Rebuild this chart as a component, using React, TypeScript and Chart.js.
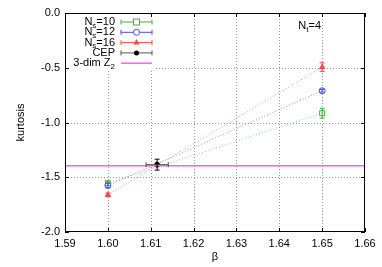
import React, { useEffect, useRef } from 'react';
import { Chart, registerables } from 'chart.js';
Chart.register(...registerables);

const betaValues = [1.6, 1.65];
const ns10Values = [-1.555, -0.915];
const ns10Errors = [0.02, 0.045];
const ns12Values = [-1.575, -0.71];
const ns12Errors = [0.02, 0.012];
const ns16Values = [-1.66, -0.495];
const ns16Errors = [0.015, 0.04];
const cepBeta = [1.6115];
const cepBetaErrors = [0.0026];
const cepValues = [-1.385];
const cepValueErrors = [0.05];
const z2Value = -1.396;
const xTicks = [1.59, 1.6, 1.61, 1.62, 1.63, 1.64, 1.65, 1.66];
const yTicks = [0, -0.5, -1.0, -1.5, -2.0];

const GREEN = 'rgb(70,170,70)';
const BLUE = 'rgb(70,70,255)';
const RED = 'rgb(255,70,70)';
const MAGENTA = 'rgb(255,90,255)';
const FONT = '"Liberation Sans", Arial, sans-serif';

const pts = (xs: number[], ys: number[]) => xs.map((x, i) => ({ x, y: ys[i] }));

export default function App() {
  const ref = useRef<HTMLCanvasElement>(null);
  useEffect(() => {
    const canvas = ref.current!;
    const series = [
      { label: '10', vals: ns10Values, errs: ns10Errors, color: GREEN, style: 'rect', fill: false },
      { label: '12', vals: ns12Values, errs: ns12Errors, color: BLUE, style: 'circle', fill: false },
      { label: '16', vals: ns16Values, errs: ns16Errors, color: RED, style: 'triangle', fill: true },
    ];
    const datasets: any[] = [];
    datasets.push({
      data: [{ x: 1.59, y: z2Value }, { x: 1.66, y: z2Value }],
      showLine: true, borderColor: MAGENTA, borderWidth: 1.5, pointRadius: 0,
    });
    series.forEach((s) => {
      datasets.push({
        data: pts(betaValues, s.vals), showLine: true,
        borderColor: s.color.replace('rgb', 'rgba').replace(')', ',0.6)'),
        borderWidth: 1, borderDash: [1, 2], pointRadius: 0,
      });
    });
    series.forEach((s) => {
      datasets.push({
        data: pts(betaValues, s.vals), showLine: false,
        pointStyle: s.style, pointRadius: s.style === 'rect' ? 3.5 : 3,
        borderColor: s.color, borderWidth: 1,
        backgroundColor: s.fill ? s.color : 'rgba(0,0,0,0)',
      });
    });
    datasets.push({
      data: pts(cepBeta, cepValues), showLine: false, pointStyle: 'circle',
      pointRadius: 2.5, borderColor: '#000', backgroundColor: '#000',
    });

    const plugin = {
      id: 'custom',
      beforeDatasetsDraw(chart: any) {
        const ctx = chart.ctx;
        const xs = chart.scales.x, ys = chart.scales.y;
        const { left, right, top, bottom } = chart.chartArea;
        const legR = left + 91, legB = top + 58;
        ctx.save();
        ctx.strokeStyle = '#999';
        ctx.lineWidth = 1;
        ctx.setLineDash([1, 2]);
        ctx.beginPath();
        xTicks.forEach((v) => {
          if (v === 1.59 || v === 1.66) return;
          const x = Math.round(xs.getPixelForValue(v)) + 0.5;
          const y0 = x < legR ? legB : top;
          ctx.moveTo(x, y0); ctx.lineTo(x, bottom);
        });
        yTicks.forEach((v) => {
          if (v === 0 || v === -2) return;
          const y = Math.round(ys.getPixelForValue(v)) + 0.5;
          const x0 = y < legB ? legR : left;
          ctx.moveTo(x0, y); ctx.lineTo(right, y);
        });
        ctx.stroke();
        ctx.restore();
      },
      afterDatasetsDraw(chart: any) {
        const ctx = chart.ctx;
        const xs = chart.scales.x, ys = chart.scales.y;
        const { left, right, top, bottom } = chart.chartArea;
        ctx.save();
        const vbar = (x: number, y1: number, y2: number, color: string) => {
          ctx.strokeStyle = color; ctx.lineWidth = 1;
          ctx.beginPath();
          ctx.moveTo(x, y1); ctx.lineTo(x, y2);
          ctx.moveTo(x - 2.5, y1); ctx.lineTo(x + 2.5, y1);
          ctx.moveTo(x - 2.5, y2); ctx.lineTo(x + 2.5, y2);
          ctx.stroke();
        };
        const hbar = (x1: number, x2: number, y: number, color: string) => {
          ctx.strokeStyle = color; ctx.lineWidth = 1;
          ctx.beginPath();
          ctx.moveTo(x1, y); ctx.lineTo(x2, y);
          ctx.moveTo(x1, y - 2.5); ctx.lineTo(x1, y + 2.5);
          ctx.moveTo(x2, y - 2.5); ctx.lineTo(x2, y + 2.5);
          ctx.stroke();
        };
        series.forEach((s) => {
          betaValues.forEach((b, i) => {
            const x = xs.getPixelForValue(b);
            vbar(x, ys.getPixelForValue(s.vals[i] + s.errs[i]), ys.getPixelForValue(s.vals[i] - s.errs[i]), s.color);
          });
        });
        cepBeta.forEach((b, i) => {
          const y = ys.getPixelForValue(cepValues[i]);
          hbar(xs.getPixelForValue(b - cepBetaErrors[i]), xs.getPixelForValue(b + cepBetaErrors[i]), y, '#555');
          vbar(xs.getPixelForValue(b), ys.getPixelForValue(cepValues[i] + cepValueErrors[i]), ys.getPixelForValue(cepValues[i] - cepValueErrors[i]), '#000');
        });
        // frame
        ctx.strokeStyle = '#000'; ctx.lineWidth = 1;
        ctx.strokeRect(left + 0.5, top + 0.5, right - left - 1, bottom - top - 1);
        // inward ticks
        ctx.beginPath();
        xTicks.forEach((v) => {
          const x = Math.round(xs.getPixelForValue(v)) + 0.5;
          ctx.moveTo(x, bottom); ctx.lineTo(x, bottom - 4);
          if (v !== 1.6) { ctx.moveTo(x, top); ctx.lineTo(x, top + 4); }
        });
        yTicks.forEach((v) => {
          const y = Math.round(ys.getPixelForValue(v)) + 0.5;
          ctx.moveTo(left, y); ctx.lineTo(left + 4, y);
          ctx.moveTo(right, y); ctx.lineTo(right - 4, y);
        });
        ctx.stroke();

        // legend
        const textRight = left + 50;
        const s0 = left + 56, s1 = left + 87, sc = (s0 + s1) / 2;
        const rowY = [22, 32.3, 42.6, 52.9, 63.2];
        ctx.fillStyle = '#000';
        ctx.textBaseline = 'middle';
        const drawSub = (main: string, sub: string, rest: string, xr: number, y: number) => {
          ctx.font = `11px ${FONT}`;
          const w1 = ctx.measureText(main).width;
          const w3 = ctx.measureText(rest).width;
          ctx.font = `8px ${FONT}`;
          const w2 = ctx.measureText(sub).width;
          let x = xr - (w1 + w2 + w3);
          ctx.textAlign = 'left';
          ctx.font = `11px ${FONT}`;
          ctx.fillText(main, x, y);
          x += w1;
          ctx.font = `8px ${FONT}`;
          ctx.fillText(sub, x, y + 3.5);
          x += w2;
          ctx.font = `11px ${FONT}`;
          ctx.fillText(rest, x, y);
        };
        series.forEach((s, i) => {
          const y = rowY[i];
          drawSub('N', 's', '=' + s.label, textRight, y);
          hbar(s0, s1, y, s.color);
          ctx.strokeStyle = s.color;
          ctx.fillStyle = s.color;
          ctx.lineWidth = 1;
          if (s.style === 'rect') {
            ctx.fillStyle = '#fff';
            ctx.fillRect(sc - 3, y - 3, 6, 6);
            ctx.strokeRect(sc - 3, y - 3, 6, 6);
          } else if (s.style === 'circle') {
            ctx.beginPath(); ctx.arc(sc, y, 3, 0, Math.PI * 2);
            ctx.fillStyle = '#fff'; ctx.fill(); ctx.stroke();
          } else {
            ctx.beginPath();
            ctx.moveTo(sc, y - 3.5); ctx.lineTo(sc + 3.2, y + 2); ctx.lineTo(sc - 3.2, y + 2);
            ctx.closePath(); ctx.fill();
          }
          ctx.fillStyle = '#000';
        });
        ctx.font = `11px ${FONT}`;
        ctx.textAlign = 'right';
        ctx.fillText('CEP', textRight, rowY[3]);
        hbar(s0, s1, rowY[3], '#555');
        ctx.beginPath(); ctx.arc(sc, rowY[3], 2.5, 0, Math.PI * 2); ctx.fillStyle = '#000'; ctx.fill();
        drawSub('3-dim Z', '2', '', textRight, rowY[4]);
        ctx.strokeStyle = MAGENTA; ctx.lineWidth = 1.5;
        ctx.beginPath(); ctx.moveTo(s0, rowY[4]); ctx.lineTo(s1, rowY[4]); ctx.stroke();

        // N_t label
        ctx.fillStyle = '#000';
        ctx.font = `11px ${FONT}`;
        const nw = ctx.measureText('N').width;
        ctx.font = `8px ${FONT}`;
        const tw = ctx.measureText('t').width;
        ctx.font = `11px ${FONT}`;
        const rw = ctx.measureText('=4').width;
        const nx = 321 - (nw + tw + rw);
        ctx.textAlign = 'left';
        ctx.fillText('N', nx, 26);
        ctx.font = `8px ${FONT}`;
        ctx.fillText('t', nx + nw, 29.5);
        ctx.font = `11px ${FONT}`;
        ctx.fillText('=4', nx + nw + tw, 26);

        // axis titles
        ctx.textAlign = 'center';
        ctx.fillText('β', (left + right) / 2, 257);
        ctx.translate(21, (top + bottom) / 2);
        ctx.rotate(-Math.PI / 2);
        ctx.fillText('kurtosis', 0, 0);
        ctx.restore();
      },
    };

    const chart = new Chart(canvas, {
      type: 'scatter',
      data: { datasets },
      plugins: [plugin],
      options: {
        animation: false,
        responsive: false,
        layout: { padding: { top: 13, right: 17, left: 0, bottom: 0 } },
        plugins: { legend: { display: false }, tooltip: { enabled: false } },
        scales: {
          x: {
            type: 'linear', min: 1.59, max: 1.66,
            afterBuildTicks: (s: any) => { s.ticks = xTicks.map((v) => ({ value: v })); },
            afterFit: (s: any) => { s.height = 35; },
            ticks: { callback: (v: any) => Number(v).toFixed(2), color: '#000', font: { family: FONT, size: 11 }, padding: 5, maxRotation: 0 },
            grid: { display: false, drawTicks: false },
            border: { display: false },
          },
          y: {
            type: 'linear', min: -2, max: 0,
            afterBuildTicks: (s: any) => { s.ticks = yTicks.map((v) => ({ value: v })); },
            afterFit: (s: any) => { s.width = 65; },
            ticks: { callback: (v: any) => Number(v).toFixed(1), color: '#000', font: { family: FONT, size: 11 }, padding: 5 },
            grid: { display: false, drawTicks: false },
            border: { display: false },
          },
        },
      } as any,
    });
    return () => chart.destroy();
  }, []);
  return (
    <div style={{ position: 'absolute', left: 0, top: 0, width: 382, height: 267, background: '#fff' }}>
      <canvas ref={ref} width={382} height={267} style={{ width: 382, height: 267, display: 'block' }} />
    </div>
  );
}
